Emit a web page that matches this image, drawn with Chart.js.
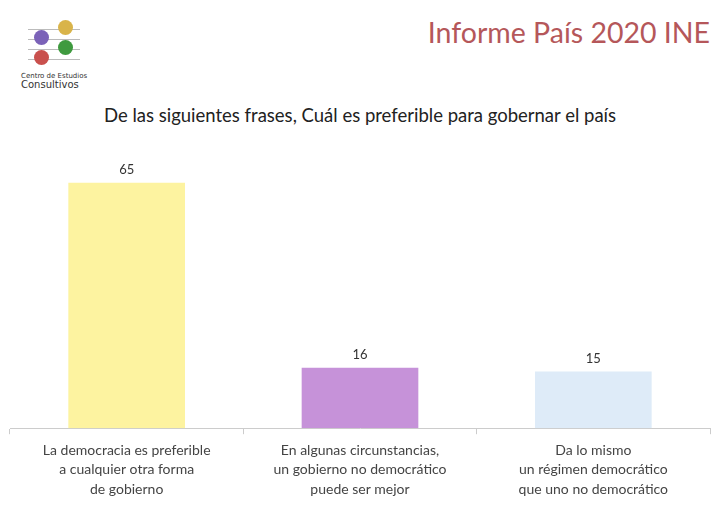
<!DOCTYPE html>
<html><head><meta charset="utf-8">
<script src="https://cdn.jsdelivr.net/npm/chart.js@4"></script>
<style>
body{margin:0;width:720px;height:513px;background:#fff;font-family:Lato,"Open Sans",sans-serif;position:relative;overflow:hidden}
#c{position:absolute;left:0;top:0}
.t{position:absolute;white-space:nowrap}
.dot{position:absolute;width:15px;height:15px;border-radius:50%}
.ln{position:absolute;height:1px;background:#bbb}
</style></head><body>
<div class="ln" style="left:28px;top:29px;width:52px"></div>
<div class="ln" style="left:28px;top:39px;width:52px"></div>
<div class="ln" style="left:28px;top:49px;width:52px"></div>
<div class="ln" style="left:28px;top:59px;width:52px"></div>
<div class="dot" style="left:58px;top:20px;background:#d9b44a"></div>
<div class="dot" style="left:34px;top:30px;background:#7b62b8"></div>
<div class="dot" style="left:58px;top:40px;background:#3f9a3f"></div>
<div class="dot" style="left:34px;top:50px;background:#c9504d"></div>
<div class="t" style="left:21px;top:72px;font-size:7px;color:#333;font-family:'DejaVu Sans'">Centro de Estudios</div>
<div class="t" style="left:21px;top:79px;font-size:10px;color:#333;font-family:'DejaVu Sans'">Consultivos</div>
<div class="t" style="right:10px;top:15px;font-size:28.5px;color:#b5575a">Informe País 2020 INE</div>
<div class="t" style="left:0;width:720px;text-align:center;top:104px;font-size:18.5px;color:#222">De las siguientes frases, Cuál es preferible para gobernar el país</div>
<canvas id="c" width="720" height="513"></canvas>
<script>
const categories=[["La democracia es preferible","a cualquier otra forma","de gobierno"],["En algunas circunstancias,","un gobierno no democrático","puede ser mejor"],["Da lo mismo","un régimen democrático","que uno no democrático"]];
const values=[65,16,15];
const colors=["#fdf3a0","#c692d9","#deebf8"];
const labelsPlugin={id:"vl",afterDatasetsDraw(ch){const ctx=ch.ctx;ctx.save();ctx.font="13px Lato";ctx.fillStyle="#333";ctx.textAlign="center";ctx.textBaseline="bottom";
ch.getDatasetMeta(0).data.forEach((b,i)=>ctx.fillText(values[i],b.x,b.y-6));ctx.restore();}};
new Chart(document.getElementById("c"),{type:"bar",
data:{labels:categories,datasets:[{data:values,backgroundColor:colors,barPercentage:0.5,categoryPercentage:1}]},
options:{responsive:false,animation:false,
layout:{padding:{left:10,right:10,top:126,bottom:8}},
plugins:{legend:{display:false},tooltip:{enabled:false}},
scales:{y:{display:false,min:0,max:80},
x:{grid:{display:true,drawOnChartArea:false,color:"#ccc",tickLength:6,offset:true},border:{color:"#ccc"},
ticks:{color:"#444",font:{size:14,family:"Lato",lineHeight:1.4},padding:6}}}},
plugins:[labelsPlugin]});
</script></body></html>
